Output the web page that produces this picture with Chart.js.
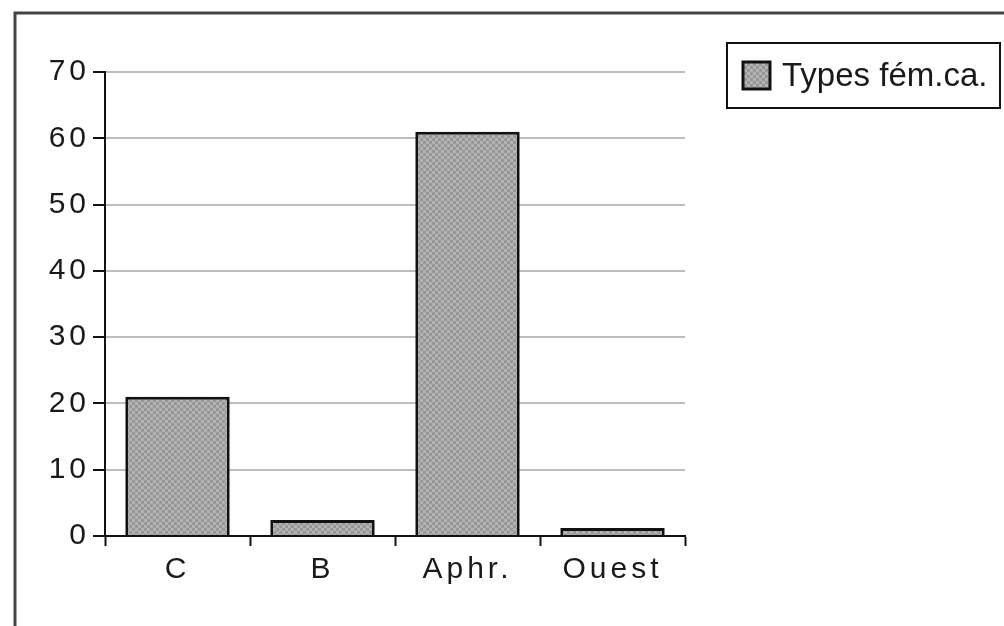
<!DOCTYPE html>
<html>
<head>
<meta charset="utf-8">
<script src="https://cdn.jsdelivr.net/npm/chart.js@4/dist/chart.umd.min.js"></script>
<style>
  html, body { margin: 0; padding: 0; background: #fff; }
  #wrap { width: 1004px; height: 626px; position: relative; }
</style>
</head>
<body>
<div id="wrap"><canvas id="c"></canvas></div>
<script>
// Categories and values
const categories = ['C', 'B', 'Aphr.', 'Ouest'];
const seriesLabel = 'Types fém.ca.';
const seriesValues = [21, 2.4, 61, 1.2];
const yTicks = [0, 10, 20, 30, 40, 50, 60, 70];

const FONT = "'Liberation Sans', Arial, sans-serif";

// Stippled grey fill for the bars
function makePattern() {
  const t = document.createElement('canvas');
  t.width = 6; t.height = 6;
  const g = t.getContext('2d');
  g.fillStyle = '#b3b3b3';
  g.fillRect(0, 0, 6, 6);
  g.fillStyle = '#979797';
  g.fillRect(0, 0, 3, 3);
  g.fillRect(3, 3, 3, 3);
  return g.createPattern(t, 'repeat');
}
const barFill = makePattern();

// Spaced tick lettering, re-applied after every canvas reset
function spacing(chart, v) {
  if ('letterSpacing' in chart.ctx) chart.ctx.letterSpacing = v;
}
const spacingPlugin = {
  id: 'spacing',
  beforeUpdate(chart) { spacing(chart, '4px'); },
  beforeLayout(chart) { spacing(chart, '4px'); },
  beforeDraw(chart) { spacing(chart, '4px'); }
};

// Outer frame (top and left edges)
const framePlugin = {
  id: 'frame',
  beforeDraw(chart) {
    const ctx = chart.ctx;
    ctx.save();
    ctx.strokeStyle = '#444';
    ctx.lineWidth = 3;
    ctx.beginPath();
    ctx.moveTo(1004, 13);
    ctx.lineTo(15, 13);
    ctx.lineTo(15, 626);
    ctx.stroke();
    ctx.restore();
  }
};

// Boxed legend at the top right
const legendBoxPlugin = {
  id: 'legendBox',
  afterDraw(chart) {
    const ctx = chart.ctx;
    const ds = chart.data.datasets[0];
    ctx.save();
    if ('letterSpacing' in ctx) ctx.letterSpacing = '0px';
    ctx.fillStyle = '#fff';
    ctx.fillRect(727, 43, 273, 65);
    ctx.strokeStyle = '#111';
    ctx.lineWidth = 2;
    ctx.strokeRect(727, 43, 273, 65);
    ctx.fillStyle = ds.backgroundColor;
    ctx.fillRect(743, 62, 27, 27);
    ctx.lineWidth = 3;
    ctx.strokeRect(743, 62, 27, 27);
    ctx.fillStyle = '#1a1a1a';
    ctx.font = '33px ' + FONT;
    ctx.textBaseline = 'middle';
    ctx.textAlign = 'left';
    ctx.fillText(ds.label, 782, 77);
    ctx.restore();
  }
};

new Chart(document.getElementById('c'), {
  type: 'bar',
  data: {
    labels: categories,
    datasets: [{
      label: seriesLabel,
      data: seriesValues,
      backgroundColor: barFill,
      borderColor: '#111',
      borderWidth: 3,
      categoryPercentage: 1,
      barPercentage: 0.72
    }]
  },
  options: {
    responsive: true,
    maintainAspectRatio: false,
    animation: false,
    layout: { padding: { left: 0, right: 319, top: 72, bottom: 0 } },
    plugins: {
      legend: { display: false },
      tooltip: { enabled: false }
    },
    scales: {
      x: {
        afterFit(scale) { scale.height = 90; },
        border: { color: '#111', width: 2 },
        grid: {
          offset: true,
          drawOnChartArea: false,
          drawTicks: true,
          tickLength: 10,
          tickColor: '#111',
          tickWidth: 2
        },
        ticks: {
          color: '#1a1a1a',
          padding: 6,
          font: { family: FONT, size: 30 }
        }
      },
      y: {
        min: 0,
        max: 70,
        afterFit(scale) { scale.width = 105; },
        afterBuildTicks(scale) { scale.ticks = yTicks.map(v => ({ value: v })); },
        border: { color: '#111', width: 2 },
        grid: {
          color: '#bdbdbd',
          lineWidth: 2,
          drawTicks: true,
          tickLength: 12,
          tickColor: '#111',
          tickWidth: 2
        },
        ticks: {
          color: '#1a1a1a',
          padding: 3,
          font: { family: FONT, size: 30 }
        }
      }
    }
  },
  plugins: [spacingPlugin, framePlugin, legendBoxPlugin]
});
</script>
</body>
</html>
